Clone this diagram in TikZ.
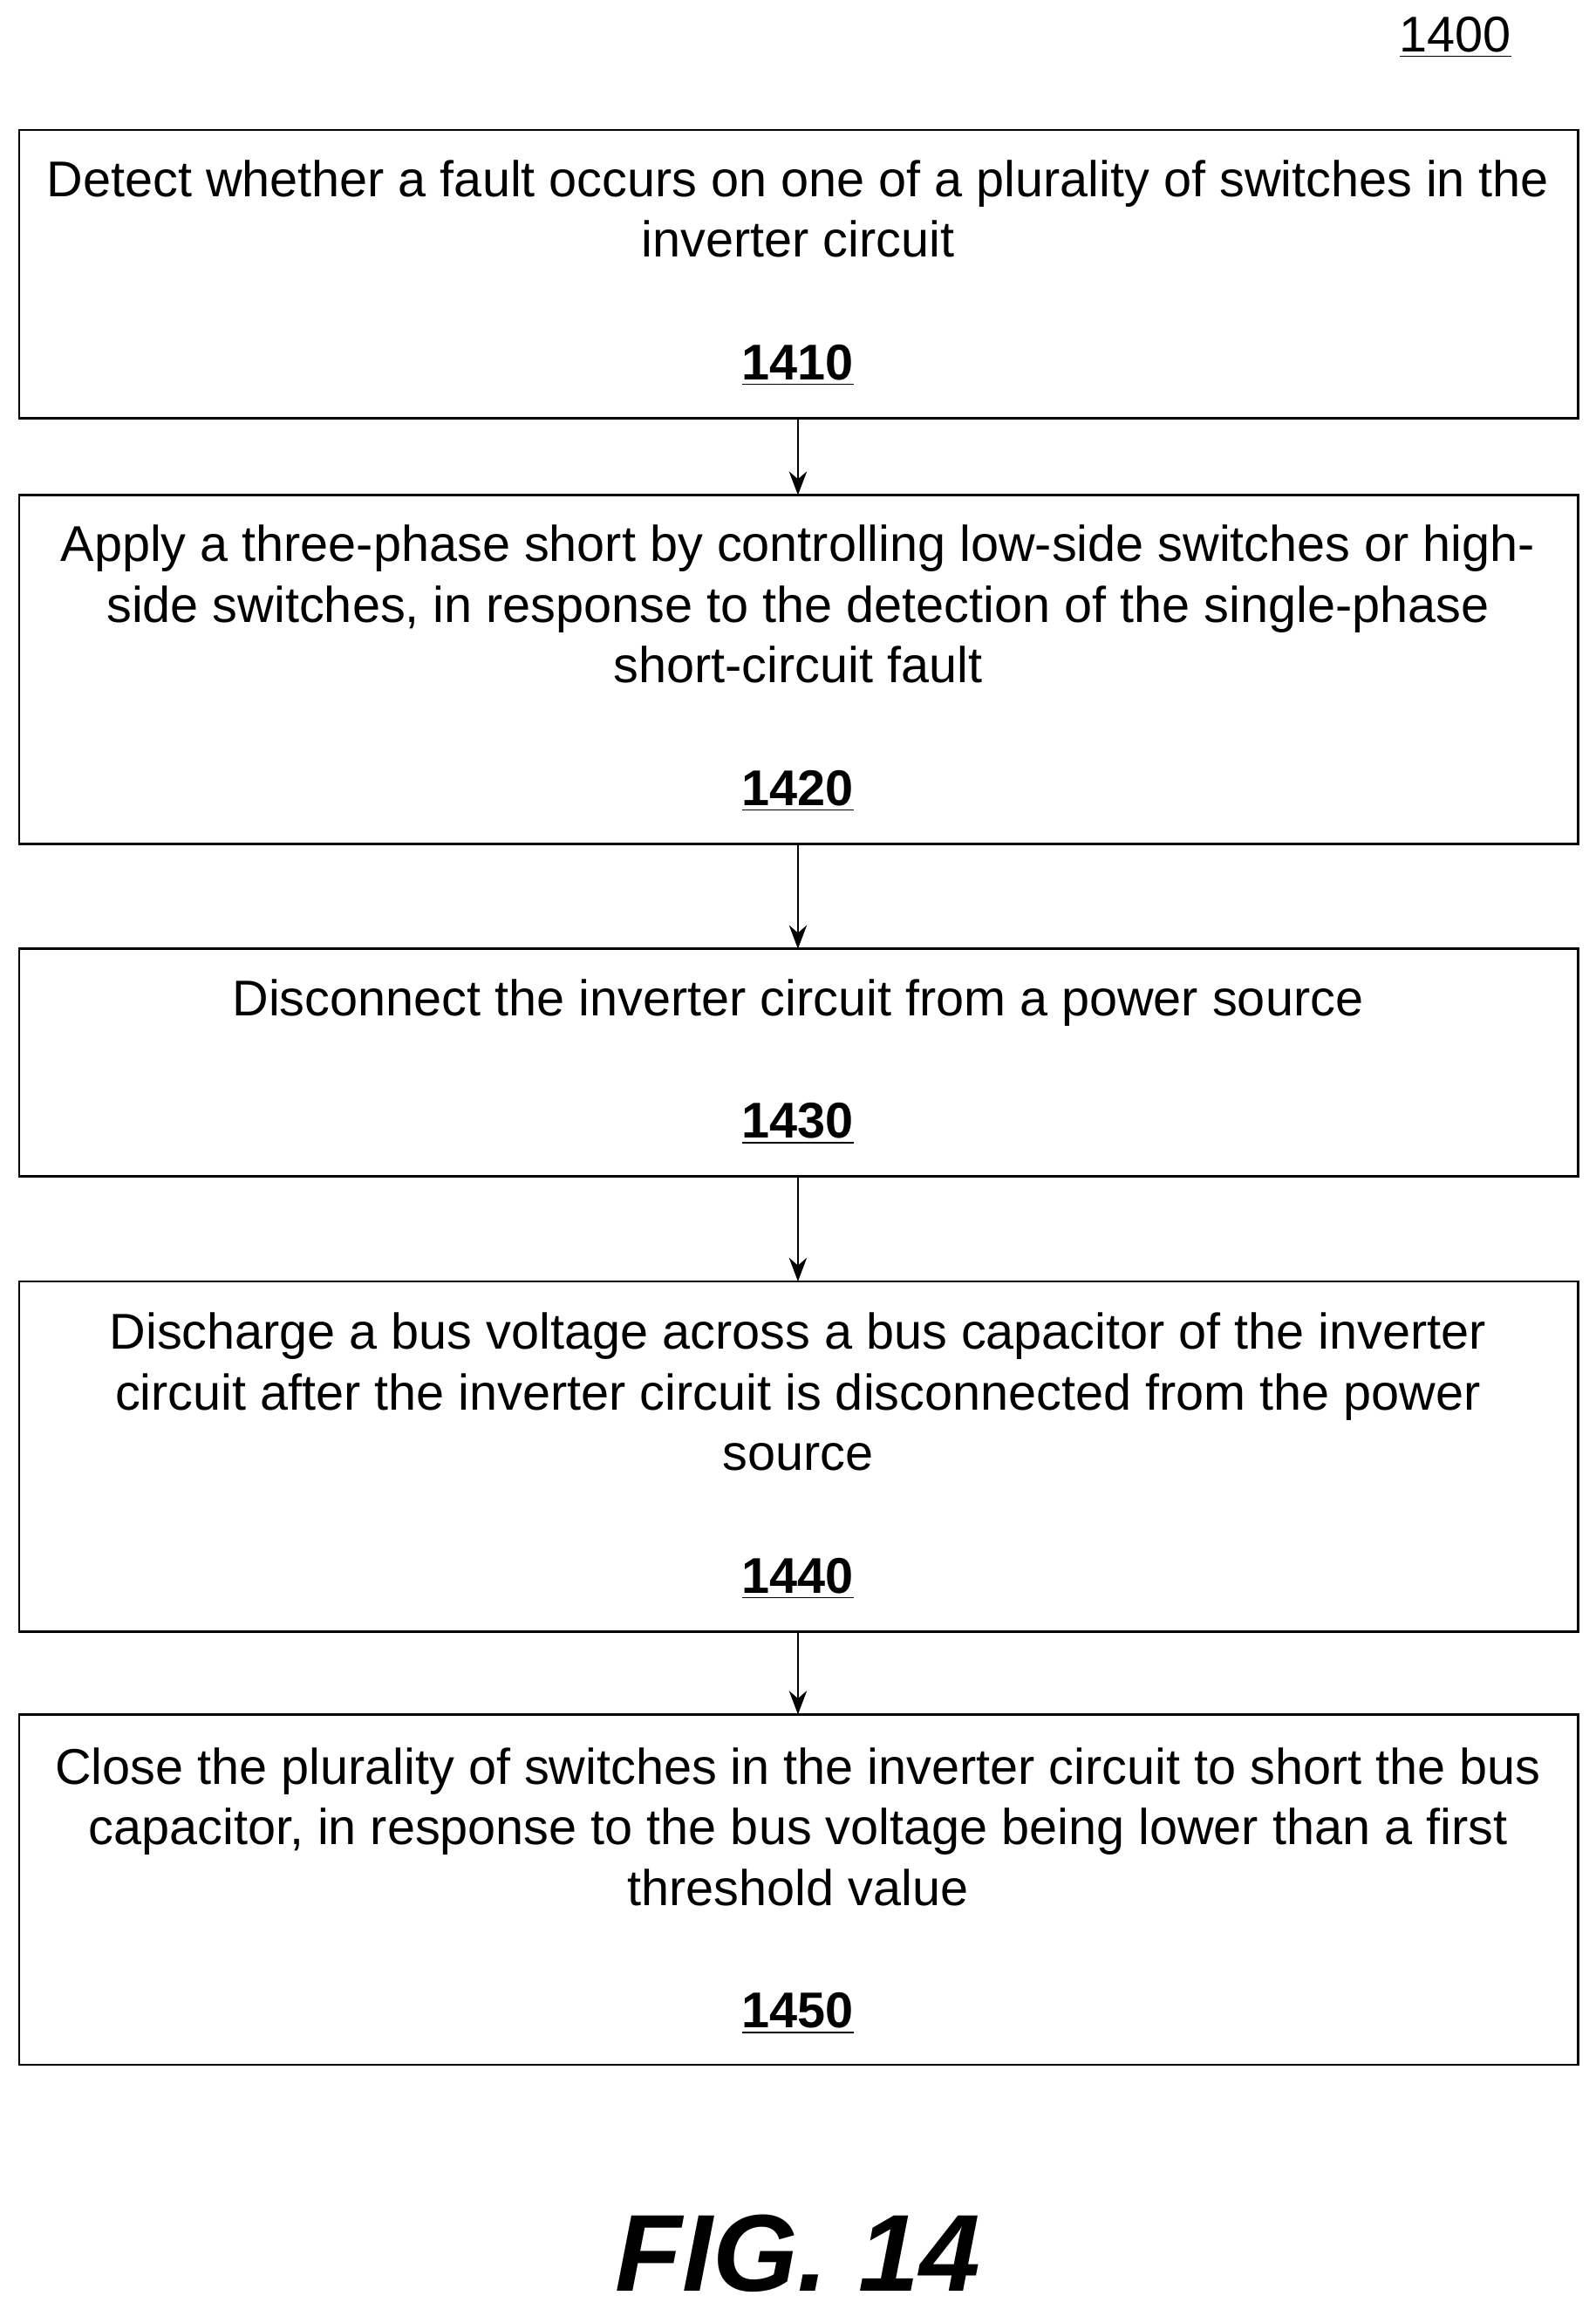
\documentclass[tikz,border=0pt]{standalone}
\usepackage{fontspec}
\setmainfont{Liberation Sans}
\usetikzlibrary{arrows.meta}
\begin{document}
\begin{tikzpicture}[x=0.5pt,y=-0.5pt,
  box/.style={draw,line width=0.8pt},
  txt/.style={font=\fontsize{17}{20.5}\selectfont,align=center,inner sep=0pt,anchor=base},
  num/.style={font=\fontsize{17}{18}\selectfont\bfseries,inner sep=0pt,anchor=base},
  arr/.style={-{Stealth[length=8pt,width=6pt]},line width=0.8pt}]
\useasboundingbox (0,0) rectangle (1080,1567);
\node[font=\fontsize{17}{18}\selectfont,inner sep=0pt,anchor=base] (lbl) at (985,35) {\underline{1400}};
\coordinate (b1a) at (13,88); \coordinate (b1b) at (1068,283);
\coordinate (b2a) at (13,335); \coordinate (b2b) at (1068,571);
\coordinate (b3a) at (13,642); \coordinate (b3b) at (1068,796);
\coordinate (b4a) at (13,867); \coordinate (b4b) at (1068,1104);
\coordinate (b5a) at (13,1160); \coordinate (b5b) at (1068,1397);
\draw[box] (b1a) rectangle (b1b);
\draw[box] (b2a) rectangle (b2b);
\draw[box] (b3a) rectangle (b3b);
\draw[box] (b4a) rectangle (b4b);
\draw[box] (b5a) rectangle (b5b);
\node[txt] (t1) at (540,174) {Detect whether a fault occurs on one of a plurality of switches in the\\inverter circuit};
\node[num] (n1) at (540,257) {\underline{1410}};
\node[txt] (t2) at (540,462) {Apply a three-phase short by controlling low-side switches or high-\\side switches, in response to the detection of the single-phase\\short-circuit fault};
\node[num] (n2) at (540,545) {\underline{1420}};
\node[txt] (t3) at (540,687) {Disconnect the inverter circuit from a power source};
\node[num] (n3) at (540,770) {\underline{1430}};
\node[txt] (t4) at (540,995) {Discharge a bus voltage across a bus capacitor of the inverter\\circuit after the inverter circuit is disconnected from the power\\source};
\node[num] (n4) at (540,1078) {\underline{1440}};
\node[txt] (t5) at (540,1289) {Close the plurality of switches in the inverter circuit to short the bus\\capacitor, in response to the bus voltage being lower than a first\\threshold value};
\node[num] (n5) at (540,1372) {\underline{1450}};
\draw[arr] (540,283) -- (540,335);
\draw[arr] (540,571) -- (540,642);
\draw[arr] (540,796) -- (540,867);
\draw[arr] (540,1104) -- (540,1160);
\node[font=\fontsize{37}{42}\selectfont\bfseries\itshape,inner sep=0pt,anchor=base] (fig) at (540,1550) {FIG. 14};
\end{tikzpicture}
\end{document}
